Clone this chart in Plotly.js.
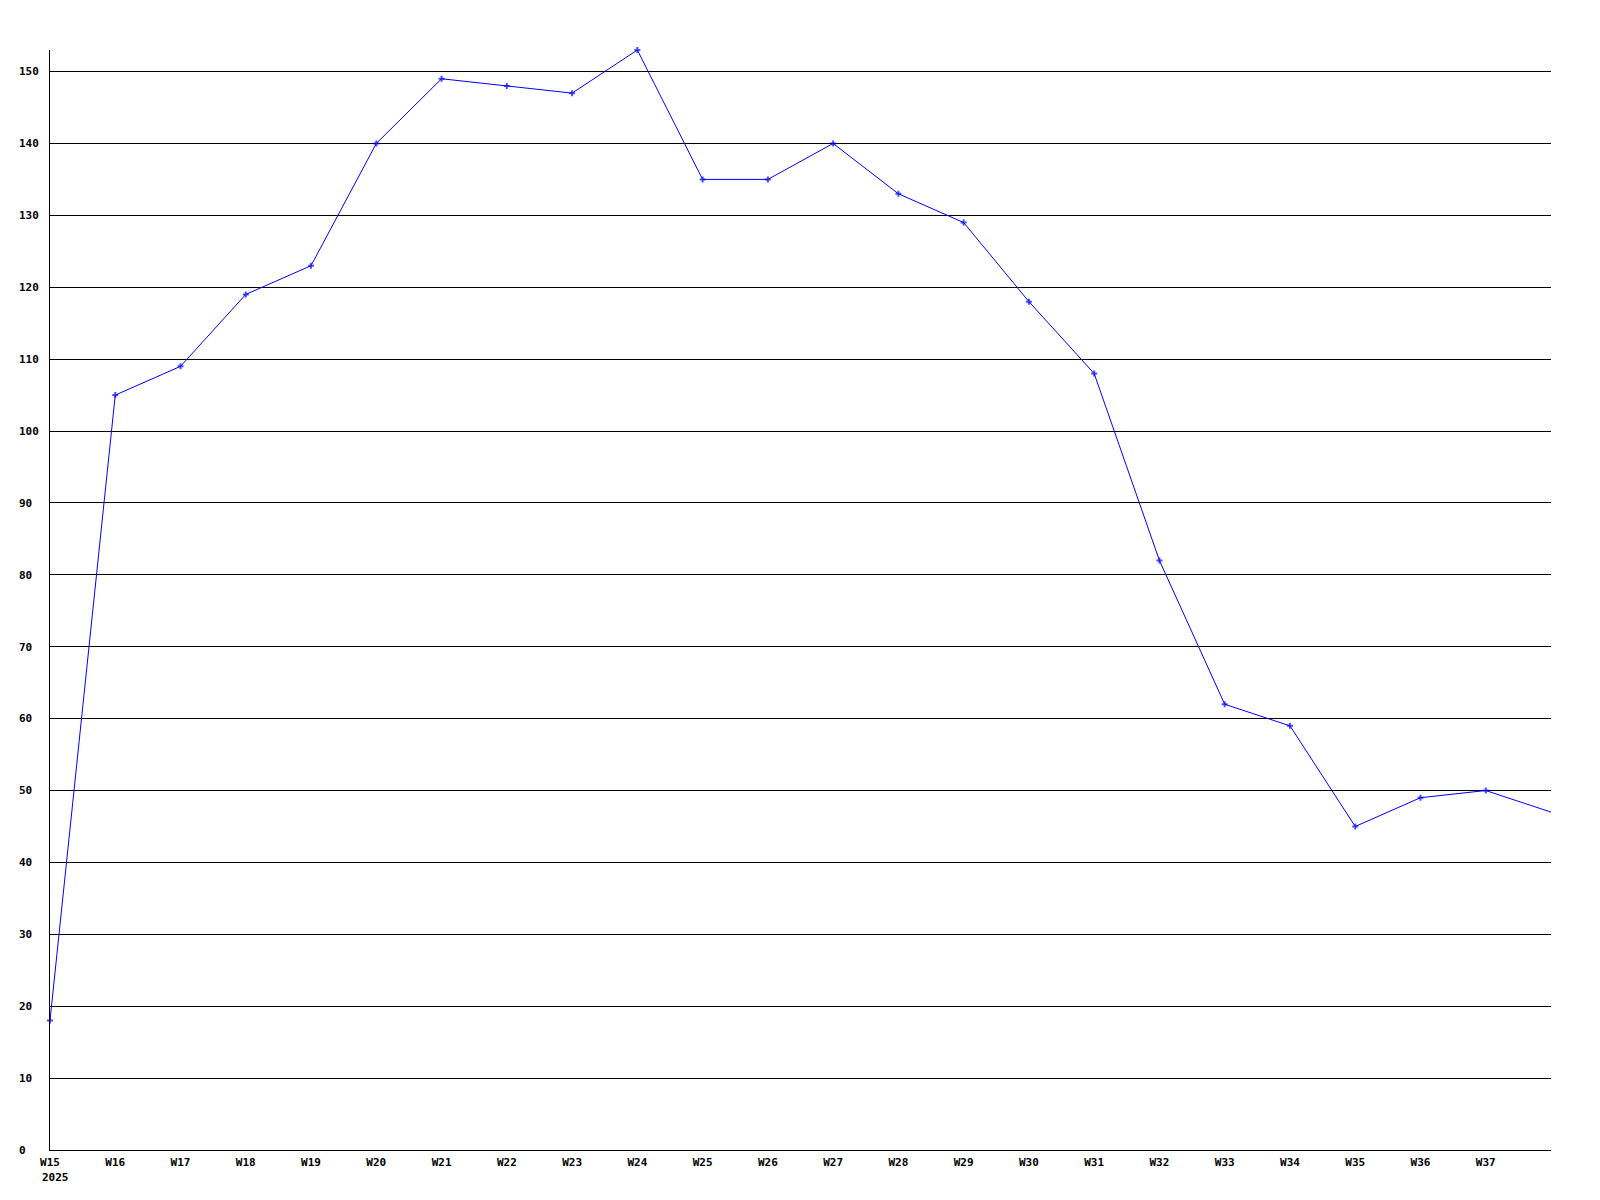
<!DOCTYPE html>
<html>
<head>
<meta charset="utf-8">
<script src="https://cdn.plot.ly/plotly-3.0.1.min.js"></script>
<style>html,body{margin:0;padding:0;background:#fff;}#chart{width:1600px;height:1200px;}</style>
</head>
<body>
<div id="chart"></div>
<script>
const weeks = ["W15","W16","W17","W18","W19","W20","W21","W22","W23","W24","W25","W26","W27","W28","W29","W30","W31","W32","W33","W34","W35","W36","W37","W38"];
const values = [18,105,109,119,123,140,149,148,147,153,135,135,140,133,129,118,108,82,62,59,45,49,50,47];
const yearLabel = "2025";
const yTicks = [0,10,20,30,40,50,60,70,80,90,100,110,120,130,140,150];

const xIdx = weeks.map((w,i)=>i);
const labeledWeeks = weeks.slice(0, weeks.length-1);
const pad = s => s + "\u00A0".repeat(3 - s.length);
const font = {family: "DejaVu Sans Mono", size: 11, color: "#000", weight: "bold"};

const trace = {
  x: xIdx,
  y: values,
  type: "scatter",
  mode: "lines+markers",
  line: {color: "#0000ff", width: 1},
  marker: {symbol: "cross", size: values.map((v,i)=> i < values.length-1 ? 5 : 0), color: "#0000ff", line: {width: 0}},
  cliponaxis: false,
  hoverinfo: "x+y"
};

const layout = {
  width: 1600, height: 1200,
  margin: {l: 50, r: 49, t: 50, b: 50},
  paper_bgcolor: "#fff", plot_bgcolor: "#fff",
  showlegend: false,
  font: font,
  xaxis: {
    range: [0, weeks.length-1],
    tickvals: labeledWeeks.map((w,i)=>i),
    ticktext: labeledWeeks,
    showgrid: false, zeroline: false,
    showline: true, linecolor: "#000", linewidth: 1,
    ticks: "", ticklabelstandoff: 2,
    tickfont: font, fixedrange: true
  },
  yaxis: {
    range: [0, Math.max(...values)],
    tickvals: yTicks,
    ticktext: yTicks.map(v=>pad(String(v))),
    showgrid: true, gridcolor: "#000", gridwidth: 1,
    zeroline: false,
    showline: true, linecolor: "#000", linewidth: 1,
    ticks: "", ticklabelstandoff: 8,
    tickfont: font, fixedrange: true
  },
  annotations: [{
    x: 0, xref: "x", xanchor: "left", xshift: -10,
    y: 0, yref: "paper", yanchor: "top", yshift: -19,
    text: yearLabel, showarrow: false, font: font
  }]
};

Plotly.newPlot("chart", [trace], layout, {displayModeBar: false, staticPlot: true});
</script>
</body>
</html>
